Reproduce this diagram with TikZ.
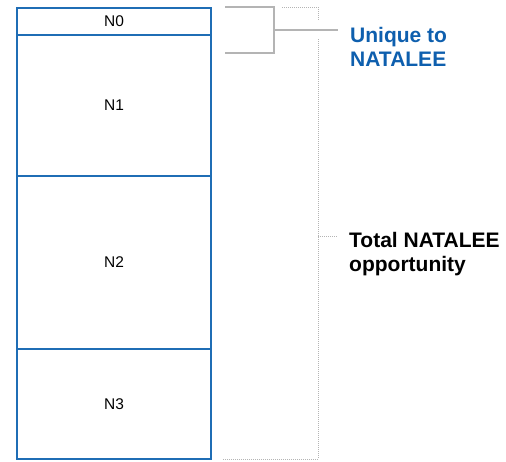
\documentclass[tikz,border=0pt]{standalone}
\usepackage{fontspec}
\setmainfont{Liberation Sans}
\usetikzlibrary{positioning}
\definecolor{boxblue}{HTML}{1F6DB5}
\definecolor{textblue}{HTML}{0E5FAE}
\definecolor{brgray}{HTML}{B4B4B4}

\begin{document}
\begin{tikzpicture}[
      x=1pt, y=1pt,
      node distance=0pt,
      seg/.style={rectangle, draw=boxblue, line width=2pt, outer sep=0pt,
                  minimum width=194pt, font=\fontsize{15.5}{18}\selectfont},
      solidbr/.style={draw=brgray, line width=1.6pt},
      dotbr/.style={draw=brgray, line width=0.9pt, dash pattern=on 1pt off 1pt},
      side/.style={align=left, anchor=north west, inner xsep=12pt, inner ysep=0pt,
                   font=\fontsize{21}{24.5}\selectfont\bfseries}
    ]
    \useasboundingbox (0,0) rectangle (506,-461);
    % stacked segments
    \node[seg, minimum height=27pt, anchor=north] (n0) at (114,-8) {N0};
    \node[seg, minimum height=141pt, below=of n0] (n1) {N1};
    \node[seg, minimum height=173pt, below=of n1] (n2) {N2};
    \node[seg, minimum height=110pt, below=of n2] (n3) {N3};
    % labels
    \node[side, text=textblue] (uniq) at (338,-27) {Unique to\\NATALEE};
    \node[side] (tot) at (337,-232) {Total NATALEE\\opportunity};
    % solid bracket
    \coordinate (ut)  at (225,-7);
    \coordinate (ub)  at (225,-53);
    \coordinate (um)  at (274,-30);
    \draw[solidbr] (ut) -| (um) |- (ub);
    \draw[solidbr] (um) -- (um -| uniq.west);
    % dotted bracket
    \coordinate (dt)  at (282,-7);
    \coordinate (dg1) at (318,-20);
    \coordinate (dg2) at (318,-39);
    \coordinate (db)  at (223,-459);
    \coordinate (dm)  at (318,-236);
    \draw[dotbr] (dt) -| (dg1);
    \draw[dotbr] (dg2) |- (db);
    \draw[dotbr] (dm) -- (dm -| tot.west);
  \end{tikzpicture}
\end{document}
